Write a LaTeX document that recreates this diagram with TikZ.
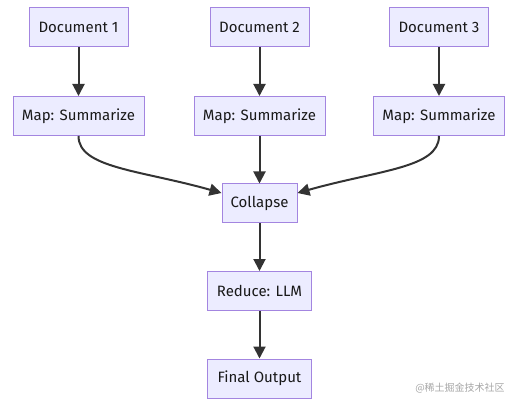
\documentclass[tikz,border=0pt]{standalone}
\usepackage{fontspec}
\setmainfont{Fira Sans}
\newfontfamily\cjk{Noto Sans CJK SC}
\usetikzlibrary{arrows.meta}
\definecolor{boxfill}{HTML}{ECECFF}
\definecolor{boxline}{HTML}{9370DB}
\definecolor{flowline}{HTML}{333333}
\tikzset{
    stage/.style={draw=boxline!85, fill=boxfill, line width=1pt, minimum height=39pt,
        inner xsep=8pt, font=\fontsize{15}{18}\selectfont, text=black!90},
    flow/.style={draw=flowline, line width=2pt, -{Triangle[length=12pt,width=12pt]}}
}
\begin{document}
\begin{tikzpicture}[x=1pt, y=-1pt]
            \useasboundingbox (0,0) rectangle (516,403);

            % sources and map steps
            \foreach \n/\x in {1/78.5, 2/259.5, 3/439}
            {
                \node[stage, minimum width=99pt] (doc\n) at (\x, 27.5) {Document \n};
                \node[stage, minimum width=131pt] (map\n) at (\x, 116) {Map: Summarize};
                \draw[flow] (doc\n) -- (map\n);
            }

            \node[stage, minimum width=75pt] (collapse) at (259.5, 203.5) {Collapse};
            \node[stage, minimum width=104pt] (reduce) at (259.5, 291) {Reduce: LLM};
            \node[stage, minimum width=104pt] (final) at (259.5, 378.5) {Final Output};

            \draw[flow] (map1.south) .. controls (78.5, 168) and (140, 170) .. (collapse.north west |- 0,193);
            \draw[flow] (map3.south) .. controls (439, 168) and (379, 170) .. (collapse.north east |- 0,193);
            \draw[flow] (map2) -- (collapse);
            \draw[flow] (collapse) -- (reduce);
            \draw[flow] (reduce) -- (final);

            \node[text=black!35, font=\cjk\fontsize{10}{12}\selectfont] (mark) at (460, 388) {@稀土掘金技术社区};
\end{tikzpicture}
\end{document}
